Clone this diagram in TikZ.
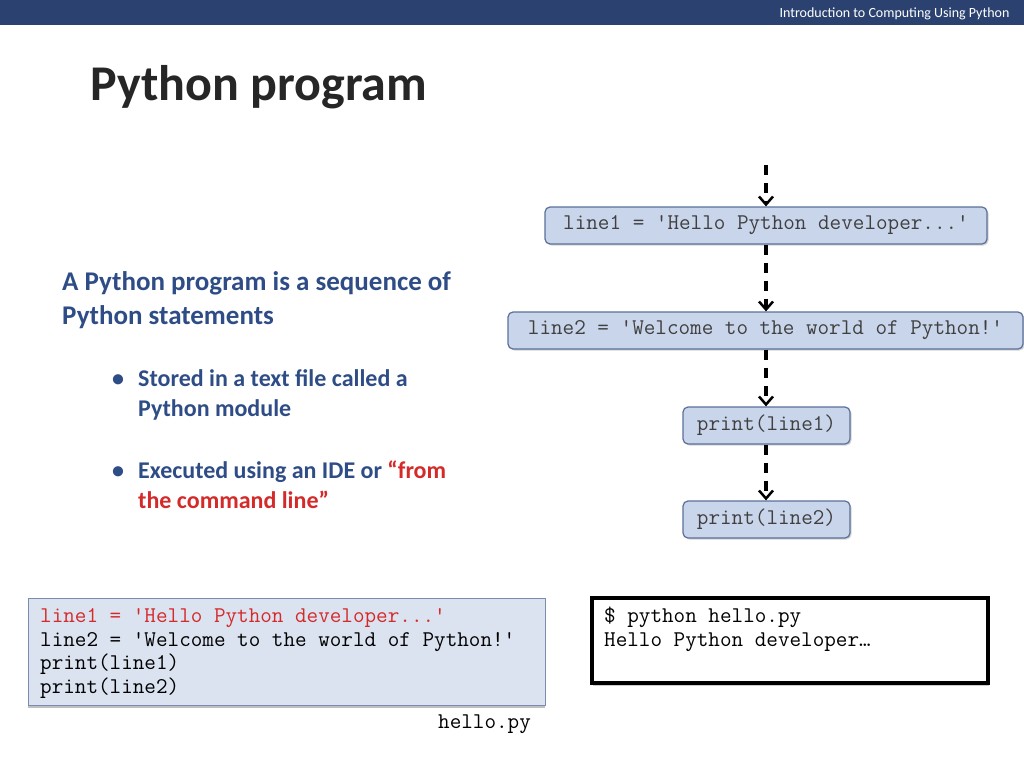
\documentclass[tikz,border=0pt]{standalone}
\usepackage{fontspec}
\setmainfont{Carlito}
\usetikzlibrary{arrows.meta,shadows}
\definecolor{hdr}{HTML}{2B4270}
\definecolor{bodyblue}{HTML}{2E4C85}
\definecolor{boxfill}{HTML}{C9D5EA}
\definecolor{boxline}{HTML}{5A7099}
\definecolor{codefill}{HTML}{DCE3F0}
\definecolor{codered}{HTML}{D42A2A}
\tikzset{
  flowbox/.style={draw=boxline,fill=boxfill,rounded corners=5pt,line width=1.2pt,inner sep=0pt,
    font=\ttfamily\fontsize{22.5}{24}\selectfont,text=black!75,drop shadow={shadow xshift=1.5pt,shadow yshift=-1.5pt,opacity=0.35}},
  flowarrow/.style={line width=3.5pt,dash pattern=on 10pt off 8pt,-{Straight Barb[length=8pt,width=14pt,line width=2.5pt]}},
  codetxt/.style={anchor=base west,font=\ttfamily\fontsize{22.5}{24}\selectfont,inner sep=0pt},
  bodytxt/.style={anchor=base west,inner sep=0pt,text=bodyblue,font=\bfseries\fontsize{24}{30}\selectfont},
}
\begin{document}
\begin{tikzpicture}[x=1pt,y=-1pt]
\useasboundingbox (0,0) rectangle (1024,768);
\fill[hdr] (0,0) rectangle (1024,25);
\node[anchor=east,text=white,font=\fontsize{14}{15}\selectfont] (hd) at (1013,14) {Introduction to Computing Using Python};
\node[anchor=base west,inner sep=0pt,font=\bfseries\fontsize{50}{54}\selectfont,text=black!85] (title) at (90,100) {Python program};
% body
\node[bodytxt,font=\bfseries\fontsize{27}{34}\selectfont] (p1) at (62,290) {A Python program is a sequence of};
\node[bodytxt,font=\bfseries\fontsize{27}{34}\selectfont] (p2) at (62,324) {Python statements};
\node[bodytxt] (b1) at (112,386) {\textbullet};
\node[bodytxt] (t1) at (138,386) {Stored in a text file called a};
\node[bodytxt] (t1b) at (138,416) {Python module};
\node[bodytxt] (b2) at (112,478) {\textbullet};
\node[bodytxt] (t2) at (138,478) {Executed using an IDE or \textcolor{codered}{“from}};
\node[bodytxt,text=codered] (t2b) at (138,508) {the command line”};
% flow
\coordinate (top) at (766,165);
\node[flowbox,minimum width=442pt,minimum height=37pt] (f1) at (766,225.5) {line1 = 'Hello Python developer...'};
\node[flowbox,minimum width=515pt,minimum height=37pt] (f2) at (765.5,330.5) {line2 = 'Welcome to the world of Python!'};
\node[flowbox,minimum width=167pt,minimum height=37pt] (f3) at (766.5,425.5) {print(line1)};
\node[flowbox,minimum width=167pt,minimum height=37pt] (f4) at (766.5,519.5) {print(line2)};
\draw[flowarrow] (top) -- (f1.north -| top);
\draw[flowarrow] (f1.south -| top) -- (f2.north -| top);
\draw[flowarrow] (f2.south -| top) -- (f3.north -| top);
\draw[flowarrow] (f3.south -| top) -- (f4.north -| top);
% code box
\node[draw=boxline!80,fill=codefill,line width=1pt,minimum width=517pt,minimum height=107pt,inner sep=0pt,
  drop shadow={shadow xshift=0pt,shadow yshift=-3pt,opacity=0.5}] (code) at (286.5,651.5) {};
\node[codetxt,text=codered] (c1) at (40,622) {line1 = 'Hello Python developer...'};
\node[codetxt] (c2) at (40,646) {line2 = 'Welcome to the world of Python!'};
\node[codetxt] (c3) at (40,669) {print(line1)};
\node[codetxt] (c4) at (40,693) {print(line2)};
\node[codetxt] (hp) at (438,728) {hello.py};
% terminal
\node[draw=black,fill=white,line width=3.5pt,minimum width=396pt,minimum height=85pt,inner sep=0pt,
  drop shadow={shadow xshift=1pt,shadow yshift=-3pt,opacity=0.4}] (term) at (790,640.5) {};
\node[codetxt] (tt1) at (604,622) {\$ python hello.py};
\node[codetxt] (tt2) at (604,646) {Hello Python developer\ldots};
\end{tikzpicture}
\end{document}
